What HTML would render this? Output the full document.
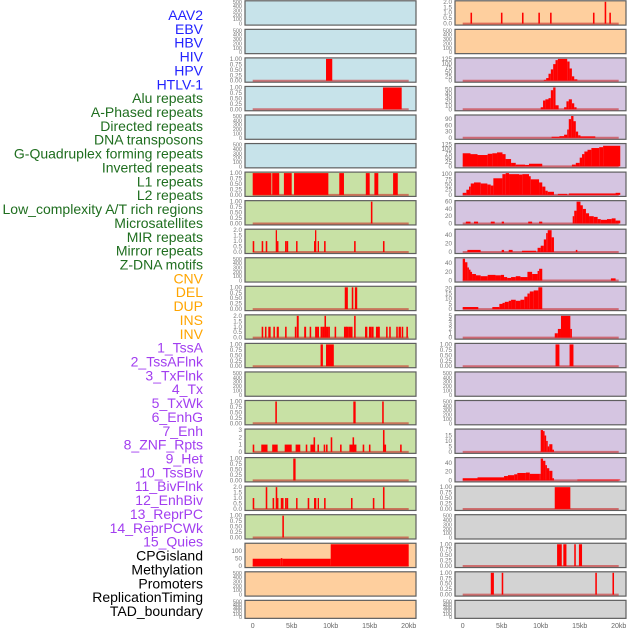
<!DOCTYPE html>
<html><head><meta charset="utf-8"><style>
html,body{margin:0;padding:0;background:#fff;}
svg{display:block;font-family:"Liberation Sans",sans-serif;}
</style></head><body>
<svg id="chart" width="630" height="630" viewBox="0 0 630 630"></svg>
<script>
const labels = ["AAV2","EBV","HBV","HIV","HPV","HTLV-1","Alu repeats","A-Phased repeats","Directed repeats","DNA transposons","G-Quadruplex forming repeats","Inverted repeats","L1 repeats","L2 repeats","Low_complexity A/T rich regions","Microsatellites","MIR repeats","Mirror repeats","Z-DNA motifs","CNV","DEL","DUP","INS","INV","1_TssA","2_TssAFlnk","3_TxFlnk","4_Tx","5_TxWk","6_EnhG","7_Enh","8_ZNF_Rpts","9_Het","10_TssBiv","11_BivFlnk","12_EnhBiv","13_ReprPC","14_ReprPCWk","15_Quies","CPGisland","Methylation","Promoters","ReplicationTiming","TAD_boundary"];
const labelGroups = [6,13,5,15,5];
const groupColors = ["#2222ff","#1f6e1f","#ffa500","#a23ef0","#000000"];
const xTicks = [0,5,10,15,20];
const xTickLabels = ["0","5kb","10kb","15kb","20kb"];

const T500=[0,100,200,300,400,500], T1=[0,0.25,0.5,0.75,1], T2=[0,0.5,1,1.5,2], T3=[0,1,2,3];
const T125=[0,25,50,75,100,125], T100=[0,25,50,75,100], T50=[0,10,20,30,40,50], T90=[0,30,60,90];
const T60=[0,20,40,60], T40=[0,20,40], T20=[0,5,10,15,20], T5=[0,1,2,3,4,5], T15=[0,5,10,15], T150=[0,50,100];

// data: [startKb, endKb, value]
const R0 = [[1.0,1.2,1],[4.9,5.1,1],[7.6,7.8,1],[9.7,9.9,1],[11.2,11.4,1],[16.7,16.9,1],[18.2,18.4,2],[18.8,19.0,1]];
const L2 = [[9.4,10.2,1]];
const R2 = [[10.4,10.7,5],[10.7,11.0,15],[11.0,11.3,40],[11.3,11.6,65],[11.6,11.9,95],[11.9,12.2,118],[12.2,13.4,125],[13.4,13.7,110],[13.7,14.0,70],[14.0,14.3,25],[14.3,14.7,8]];
const L3 = [[16.7,19.1,1]];
const R3 = [[10.0,10.3,5],[10.3,10.6,22],[10.6,11.0,25],[11.0,11.3,28],[11.3,11.6,48],[11.6,11.9,55],[11.9,12.3,10],[13.0,13.3,5],[13.3,13.6,20],[13.6,14.0,25],[14.0,14.3,15],[14.3,14.6,5]];
const R4 = [[11.4,12.4,5],[12.4,13.0,8],[13.0,13.4,15],[13.4,13.6,40],[13.6,13.9,90],[13.9,14.2,105],[14.2,14.5,80],[14.5,14.8,30],[14.8,15.1,12],[15.1,17.0,7]];
const R5 = [[0,1,75],[1,1.9,70],[1.9,3.2,65],[3.2,3.8,72],[3.8,4.4,75],[4.4,5.1,80],[5.1,5.5,70],[5.5,6.2,42],[6.2,6.8,20],[6.8,8.0,10],[8.0,8.5,8],[8.5,10.2,15],[14.0,14.5,10],[14.5,15.0,20],[15.0,15.3,50],[15.3,15.6,70],[15.6,16.0,85],[16.0,16.5,95],[16.5,17.5,105],[17.5,18,110],[18,20.2,118]];
const L6 = [[0,2.4,1],[2.5,3.4,1],[4.0,5.0,1],[5.3,9.7,1],[11.1,11.7,1],[14.5,15.0,1],[15.6,16.1,1],[18.0,18.6,1]];
const R6 = [[0,0.47,10],[0.47,0.81,25],[0.81,1.03,40],[1.03,1.45,55],[1.45,2.31,60],[2.31,3.16,55],[3.16,3.59,50],[3.59,3.93,45],[3.93,5.09,80],[5.09,5.51,100],[5.51,5.94,105],[5.94,7.22,100],[7.22,7.65,98],[7.65,8.5,100],[8.5,8.72,90],[8.72,9.79,75],[9.79,10.2,60],[10.2,10.6,40],[10.6,10.9,20],[10.9,11.7,15],[12.2,13.4,5],[13.6,19.6,7],[19.6,20.2,10]];
const L7 = [[15.15,15.35,1]];
const R7 = [[0.4,1.0,5],[1.45,1.97,5],[3.6,4.1,5],[5.0,5.3,5],[8.4,8.9,5],[9.8,10.2,5],[14.1,14.3,20],[14.3,14.6,35],[14.6,15.1,60],[15.1,15.4,50],[15.4,15.8,40],[15.8,16.2,28],[16.2,16.8,20],[16.8,17.3,18],[17.3,17.7,12],[17.7,18.5,10],[18.5,19.1,12],[19.1,19.6,14],[19.6,20.2,8]];
const L8 = [[0,0.2,1],[1.15,1.35,1],[1.67,1.87,1],[2.95,3.1,2],[3.12,3.3,1],[4.15,4.35,1],[4.36,4.55,1],[5.56,5.75,1],[7.86,8.0,1],[7.99,8.15,2],[8.33,8.5,1],[9.15,9.35,1],[13.0,13.2,1],[16.7,16.9,1]];
const R8 = [[0.6,2.3,5],[5.0,5.3,5],[5.9,6.4,5],[7.6,9.4,3],[9.6,10.0,10],[10.0,10.4,15],[10.4,10.7,30],[10.7,10.9,45],[10.9,11.4,52],[11.4,11.7,35],[14.5,14.7,5]];
const R9 = [[0,0.3,50],[0.3,0.6,42],[0.6,0.8,30],[0.8,1.0,25],[1.0,1.2,20],[1.2,1.7,15],[1.7,2.3,12],[2.3,3.2,10],[3.2,4.2,13],[4.2,4.9,12],[4.9,5.3,13],[5.3,5.7,8],[5.7,6.2,6],[6.2,6.8,8],[6.8,7.4,10],[7.4,8.3,8],[8.3,8.9,20],[8.9,9.6,15],[9.6,9.8,22],[9.8,10.2,27],[19.0,19.6,5]];
const L10 = [[11.8,12.2,1],[12.7,12.9,1],[13.1,13.4,1]];
const R10 = [[0,2,2],[3.8,4.7,2],[4.7,5.1,5],[5.1,5.4,6],[5.4,5.9,7],[5.9,6.2,8],[6.2,6.8,9],[6.8,7.4,8],[7.4,7.9,9],[7.9,8.3,12],[8.3,8.6,15],[8.6,9.1,17],[9.1,9.7,18],[9.7,10.2,21]];
const L11 = [[1.15,1.35,1],[1.57,1.77,1],[2.0,2.3,1],[2.65,2.85,1],[3.08,3.35,1],[4.15,4.35,1],[5.4,5.6,1],[5.65,5.9,2],[6.6,6.85,1],[7.3,7.5,1],[8.0,8.3,1],[8.3,8.5,1],[8.7,9.0,1],[9.0,9.2,1],[9.2,9.4,2],[9.4,9.7,1],[9.7,9.9,1],[10.5,10.7,1],[11.7,12.1,1],[12.0,12.3,1],[12.3,12.6,1],[12.6,12.8,1],[13.0,13.2,2],[14.4,14.7,1],[14.9,15.2,1],[15.2,15.5,1],[15.8,16.2,1],[16.1,16.3,1],[17.1,17.3,1],[17.5,17.7,1],[18.4,18.6,1],[18.7,19.0,1],[19.1,19.3,1],[19.7,19.9,1]];
const R11 = [[11.8,12.2,1],[12.2,12.6,2],[12.6,13.8,5],[13.8,14.0,2]];
const L12 = [[8.7,9.0,1],[9.4,10.4,1]];
const R12 = [[11.9,12.4,1],[13.7,14.2,1]];
const L14 = [[2.9,3.1,1],[12.9,13.2,1],[16.6,16.8,1]];
const L15 = [[0,0.2,1],[1.1,1.9,1],[2.5,3.2,1],[4.1,5.0,1],[5.5,6.1,1],[6.8,7.0,1],[7.4,8.0,1],[7.8,8.0,2],[8.3,8.5,1],[9.1,9.3,1],[9.4,9.6,1],[10.0,10.2,2],[11.2,11.4,1],[12.4,13.3,1],[12.8,13.0,2],[14.1,14.3,1],[14.9,15.1,1],[16.7,16.9,3],[16.9,17.1,1],[18.9,19.1,1]];
const R15 = [[10.0,10.3,20],[10.3,10.5,19],[10.5,10.7,15],[10.7,10.9,10],[10.9,11.1,5],[11.1,11.5,7],[11.5,11.7,2]];
const L16 = [[5.2,5.5,1]];
const R16 = [[0,1.9,5],[1.9,5.3,7],[5.3,5.8,10],[5.8,6.6,12],[6.6,7.0,14],[7.0,8.1,17],[8.1,8.6,18],[8.6,9.8,15],[9.8,10.0,15],[10.0,10.3,50],[10.3,10.6,45],[10.6,10.8,35],[10.8,11.1,28],[11.1,11.5,22],[11.5,11.7,5],[14.7,20.2,2]];
const L17 = [[0,0.2,1],[1.67,1.87,2],[2.55,2.75,1],[2.95,3.15,2],[3.12,3.3,1],[3.6,3.8,1],[3.75,3.95,1],[4.15,4.35,1],[4.36,4.55,1],[5.56,5.75,1],[7.05,7.25,1],[7.86,8.05,1],[7.99,8.15,1],[8.33,8.5,1],[9.15,9.35,1],[12.6,12.8,1],[15.4,15.6,1],[16.7,16.9,2]];
const R17 = [[11.8,13.8,1]];
const L18 = [[3.8,4.0,1]];
const L19 = [[0,3.6,48],[3.6,3.8,52],[3.8,10,48],[10,20,143]];
const R19 = [[12.1,12.7,1],[12.9,13.3,1],[14.3,14.5,1],[14.9,15.3,1]];
const R20 = [[3.6,4.0,1],[5.0,5.2,1],[17.0,17.2,1],[19.2,19.4,1]];

const BLUE="#c7e3ea", ORANGE="#fecf9e", PURPLE="#d5c5e1", GREEN="#c8e1a5", GRAY="#d3d3d3";
// [leftData, leftTicks, leftBg, rightData, rightTicks, rightBg]
const rows = [
 [null,T500,BLUE, R0,T2,ORANGE],
 [null,T500,BLUE, null,T500,ORANGE],
 [L2,T1,BLUE, R2,T125,PURPLE],
 [L3,T1,BLUE, R3,T50,PURPLE],
 [null,T500,BLUE, R4,T90,PURPLE],
 [null,T500,BLUE, R5,T125,PURPLE],
 [L6,T1,GREEN, R6,T100,PURPLE],
 [L7,T1,GREEN, R7,T60,PURPLE],
 [L8,T2,GREEN, R8,T40,PURPLE],
 [null,T500,GREEN, R9,T40,PURPLE],
 [L10,T1,GREEN, R10,T20,PURPLE],
 [L11,T2,GREEN, R11,T5,PURPLE],
 [L12,T1,GREEN, R12,T1,PURPLE],
 [null,T500,GREEN, null,T500,PURPLE],
 [L14,T1,GREEN, null,T500,PURPLE],
 [L15,T3,GREEN, R15,T15,PURPLE],
 [L16,T1,GREEN, R16,T40,PURPLE],
 [L17,T2,GREEN, R17,T1,GRAY],
 [L18,T1,GREEN, null,T500,GRAY],
 [L19,T150,ORANGE, R19,T1,GRAY],
 [null,T500,ORANGE, R20,T1,GRAY],
 [null,T500,ORANGE, null,T500,GRAY]
];

const NS="http://www.w3.org/2000/svg";
const svg=document.getElementById('chart');
function mk(tag,attrs,parent){const e=document.createElementNS(NS,tag);for(const k in attrs)e.setAttribute(k,attrs[k]);(parent||svg).appendChild(e);return e;}

// labels
let li=0;
labelGroups.forEach((n,g)=>{for(let j=0;j<n;j++){
  const t=mk('text',{x:203,y:20+li*13.86,'text-anchor':'end','font-size':14,fill:groupColors[g]});
  
  
  t.textContent=labels[li];li++;}});

const colX=[245,455];
function xScale(col,kb){return colX[col]+7.7+kb*7.8;}
function fmt(ticks,v){
  if(ticks===T1) return v.toFixed(2);
  if(ticks===T2) return v.toFixed(1);
  return String(v);
}
rows.forEach((row,i)=>{
  const top=0.8+i*28.55, h=(i===21)?18:24.3;
  for(let c=0;c<2;c++){
    const data=row[c*3], ticks=row[c*3+1], bg=row[c*3+2];
    const g=mk('g',{});
    
    
    const fr=mk('rect',{x:colX[c],y:top,width:171,height:h,fill:bg,stroke:'#5f5f5f','stroke-width':1.2},g);
    
    
    let ymax=ticks[ticks.length-1];
    if(data) data.forEach(d=>{if(d[2]>ymax)ymax=d[2];});
    const bottom=top+h-1.5, span=h-2.5;
    const yS=v=>bottom-v/ymax*span;
    ticks.forEach(t=>{
      const tx=mk('text',{x:colX[c]-3,y:yS(t)+2,'text-anchor':'end','font-size':(ticks===T500?5.5:6.3),fill:'#777'},g);
      
      
      tx.textContent=fmt(ticks,t);
    });
    if(data){
      const bl=mk('line',{x1:xScale(c,0),x2:xScale(c,20),y1:yS(0),y2:yS(0),stroke:'rgba(200,30,30,0.55)','stroke-width':2},g);
      
      
      data.forEach(d=>{
        const x0=xScale(c,d[0]), x1=xScale(c,d[1]);
        const b=mk('rect',{x:x0,y:yS(d[2]),width:Math.max(1.3,x1-x0),height:yS(0)-yS(d[2]),fill:'#ff0000'},g);
        
        
      });
    }
  }
});
// x axes
for(let c=0;c<2;c++){
  xTicks.forEach((k,j)=>{
    const t=mk('text',{x:xScale(c,k),y:628,'text-anchor':'middle','font-size':7,fill:'#666'});
    
    
    t.textContent=xTickLabels[j];
  });
}
</script>
</body></html>
